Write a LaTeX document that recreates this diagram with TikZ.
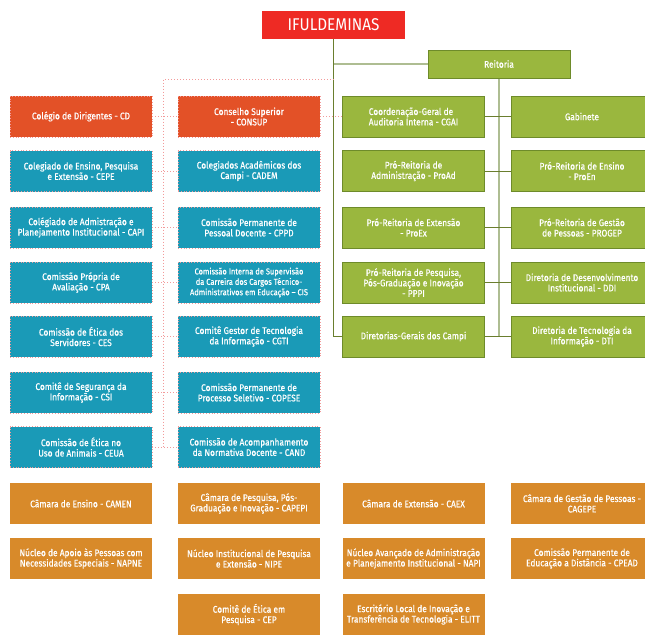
\documentclass[tikz,border=0pt]{standalone}
\usepackage{fontspec}
\setmainfont{Fira Sans}[FakeStretch=0.87,FakeBold=0.6]
\newfontfamily\titlefont{Fira Sans}[FakeStretch=0.9]
\definecolor{titlered}{HTML}{EE2A24}
\definecolor{consred}{HTML}{E35127}
\definecolor{colblue}{HTML}{1A9AB7}
\definecolor{reitgreen}{HTML}{9AB73E}
\definecolor{reitedge}{HTML}{6E8B2A}
\definecolor{camorange}{HTML}{D88A2A}
\definecolor{dotpink}{HTML}{F29A9A}
\definecolor{trunkdark}{HTML}{6A7E2E}
\definecolor{trunklight}{HTML}{AEBD92}
\tikzset{
  unit/.style={minimum width=142pt,minimum height=41pt,inner sep=1pt,align=center,
    text=white,font=\fontsize{9.6}{10.4}\selectfont},
  conselho/.style={unit,fill=consred,draw=dotpink,line width=0.8pt,dash pattern=on 0.8pt off 2pt},
  colegiado/.style={unit,fill=colblue,draw=dotpink,line width=0.8pt,dash pattern=on 0.8pt off 2pt},
  gestao/.style={unit,fill=reitgreen,draw=reitedge,line width=1pt},
  camara/.style={unit,fill=camorange},
  linkdot/.style={dotpink,line width=1pt,dash pattern=on 1pt off 2pt},
}
\begin{document}
\begin{tikzpicture}[x=1pt,y=-1pt]%[scale = 0.9]
    \useasboundingbox (0,0) rectangle (645,635);
    \node[fill=titlered,text=white,minimum width=143pt,minimum height=28pt,font=\titlefont\fontsize{17}{17}\selectfont](ifu)at(333.5,25){IFULDEMINAS};
    \node[gestao,minimum height=28pt](reit)at(499,64){Reitoria};
    % conselhos e colegiados
    \node[conselho](cd)at(81,116.5){Colégio de Dirigentes - CD};
    \node[conselho](consup)at(249,116.5){Conselho Superior\\- CONSUP};
    \node[colegiado](cepe)at(81,171){Colegiado de Ensino, Pesquisa\\e Extensão - CEPE};
    \node[colegiado](cadem)at(249,171){Colegiados Acadêmicos dos\\Campi - CADEM};
    \node[colegiado](capi)at(81,227.5){Colégiado de Admistração e\\Planejamento Institucional - CAPI};
    \node[colegiado](cppd)at(249,227.5){Comissão Permanente de\\Pessoal Docente - CPPD};
    \node[colegiado](cpa)at(81,282.5){Comissão Própria de\\Avaliação - CPA};
    \node[colegiado,font=\fontsize{8.6}{10.4}\selectfont](cis)at(249,282.5){Comissão Interna de Supervisão\\da Carreira dos Cargos Técnico-\\Administrativos em Educação – CIS};
    \node[colegiado](ces)at(81,336.5){Comissão de Ética dos\\Servidores - CES};
    \node[colegiado](cgti)at(249,336.5){Comitê Gestor de Tecnologia\\da Informação - CGTI};
    \node[colegiado](csi)at(81,392.5){Comitê de Segurança da\\Informação - CSI};
    \node[colegiado](copese)at(249,392.5){Comissão Permanente de\\Processo Seletivo - COPESE};
    \node[colegiado](ceua)at(81,447){Comissão de Ética no\\Uso de Animais - CEUA};
    \node[colegiado](cand)at(249,447){Comissão de Acompanhamento\\da Normativa Docente - CAND};
    % reitoria
    \node[gestao,align=left](cgai)at(413.5,116.5){Coordenação-Geral de\\Auditoria Interna - CGAI};
    \node[gestao](gab)at(582,116.5){Gabinete};
    \node[gestao](proad)at(413.5,171){Pró-Reitoria de\\Administração - ProAd};
    \node[gestao](proen)at(582,171){Pró-Reitoria de Ensino\\- ProEn};
    \node[gestao](proex)at(413.5,227.5){Pró-Reitoria de Extensão\\- ProEx};
    \node[gestao](progep)at(582,227.5){Pró-Reitoria de Gestão\\de Pessoas - PROGEP};
    \node[gestao](pppi)at(413.5,282.5){Pró-Reitoria de Pesquisa,\\Pós-Graduação e Inovação\\- PPPI};
    \node[gestao](ddi)at(582,282.5){Diretoria de Desenvolvimento\\Institucional - DDI};
    \node[gestao](dgc)at(413.5,336.5){Diretorias-Gerais dos Campi};
    \node[gestao](dti)at(582,336.5){Diretoria de Tecnologia da\\Informação - DTI};
    % camaras e nucleos
    \node[camara](camen)at(81,503.5){Câmara de Ensino - CAMEN};
    \node[camara](capepi)at(249,503.5){Câmara de Pesquisa, Pós-\\Graduação e Inovação - CAPEPI};
    \node[camara](caex)at(413.5,503.5){Câmara de Extensão - CAEX};
    \node[camara](cagepe)at(582,503.5){Câmara de Gestão de Pessoas -\\CAGEPE};
    \node[camara](napne)at(81,558.5){Núcleo de Apoio às Pessoas com\\Necessidades Especiais - NAPNE};
    \node[camara](nipe)at(249,558.5){Núcleo Institucional de Pesquisa\\e Extensão - NIPE};
    \node[camara](napi)at(413.5,558.5){Núcleo Avançado de Administração\\e Planejamento Institucional - NAPI};
    \node[camara](cpead)at(582,558.5){Comissão Permanente de\\Educação a Distância - CPEAD};
    \node[camara](cep)at(249,614.5){Comitê de Ética em\\Pesquisa - CEP};
    \node[camara](elitt)at(413.5,614.5){Escritório Local de Inovação e\\Transferência de Tecnologia - ELITT};
    % ligacoes
    \draw[trunklight,line width=1.5pt](ifu.south|-reit.west)--(reit.west);
    \draw[trunklight,line width=1.5pt](reit.south)--(reit.south|-dgc.east);
    \draw[trunkdark,line width=1pt](ifu.south)|-(dgc.west);
    \foreach \a/\b in {cgai/gab,proad/proen,proex/progep,pppi/ddi,dgc/dti}
        \draw[trunkdark,line width=1pt](\a.east)--(\b.west);
    \coordinate(dtop)at(163,79);
    \draw[linkdot](ifu.south|-dtop)--(dtop)--(dtop|-ceua.east);
    \foreach \a/\b in {cd/consup,cepe/cadem,capi/cppd,cpa/cis,ces/cgti,csi/copese,ceua/cand,consup/cgai}
        \draw[linkdot](\a.east)--(\b.west);
\end{tikzpicture}
\end{document}
